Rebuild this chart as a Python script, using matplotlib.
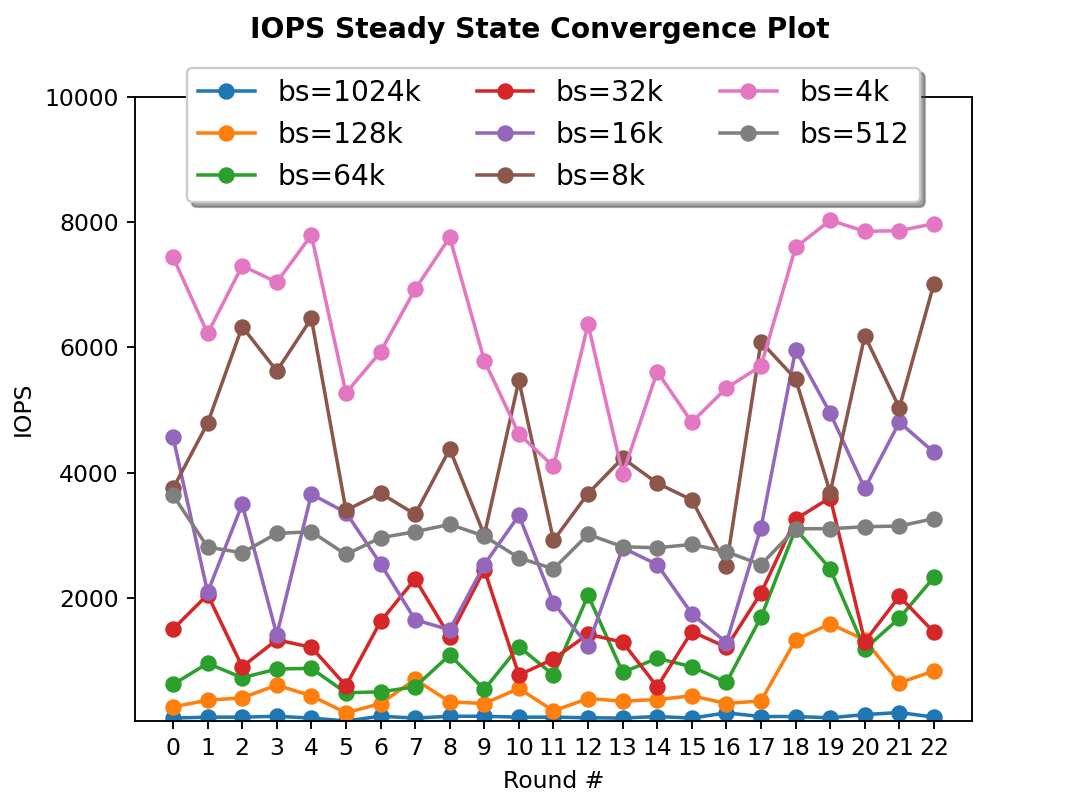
import matplotlib
matplotlib.use("Agg")
import matplotlib.pyplot as plt

# Data
rounds = list(range(23))

bs_1024k = [75, 90, 90, 104, 75, 30, 104, 75, 104, 104, 90, 90, 80, 75, 100, 75, 158, 100, 100, 80, 131, 164, 90]
bs_128k = [254, 361, 399, 602, 431, 158, 308, 693, 335, 308, 549, 190, 388, 345, 372, 431, 308, 350, 1325, 1582, 1325, 640, 827]
bs_64k = [613, 950, 720, 859, 870, 479, 495, 575, 1084, 533, 1218, 763, 2037, 806, 1031, 896, 645, 1689, 3100, 2460, 1180, 1673, 2325]
bs_32k = [1497, 2048, 896, 1325, 1207, 592, 1619, 2300, 1378, 2449, 763, 1020, 1416, 1288, 575, 1459, 1207, 2075, 3252, 3600, 1298, 2020, 1448]
bs_16k = [4564, 2085, 3493, 1405, 3654, 3360, 2541, 1646, 1486, 2529, 3316, 1914, 1233, 2798, 2529, 1742, 1282, 3119, 5966, 4949, 3745, 4805, 4323]
bs_8k = [3745, 4789, 6331, 5624, 6464, 3397, 3670, 3332, 4376, 3000, 5473, 2915, 3665, 4232, 3830, 3562, 2513, 6090, 5496, 3681, 6186, 5035, 7021]
bs_4k = [7444, 6223, 7305, 7042, 7797, 5271, 5929, 6930, 7760, 5790, 4617, 4098, 6368, 3975, 5613, 4805, 5351, 5704, 7599, 8033, 7856, 7866, 7979]
bs_512 = [3638, 2808, 2717, 3027, 3054, 2690, 2958, 3054, 3172, 2984, 2637, 2460, 3011, 2814, 2798, 2851, 2733, 2529, 3102, 3102, 3134, 3145, 3263]

series = [
    ("bs=1024k", bs_1024k),
    ("bs=128k", bs_128k),
    ("bs=64k", bs_64k),
    ("bs=32k", bs_32k),
    ("bs=16k", bs_16k),
    ("bs=8k", bs_8k),
    ("bs=4k", bs_4k),
    ("bs=512", bs_512),
]


def main():
    fig, ax = plt.subplots(figsize=(6.4, 4.8), dpi=168.75)

    for label, values in series:
        ax.plot(rounds, values, marker="o", label=label)

    ax.set_ylim(30, 10000)
    ax.set_xticks(rounds)
    ax.set_xlabel("Round #")
    ax.set_ylabel("IOPS")
    fig.suptitle("IOPS Steady State Convergence Plot", fontweight="bold")

    # legend sits above the plot area, partly over the top spine
    ax.legend(loc="upper center", bbox_to_anchor=(0.5, 1.07), ncol=3,
              shadow=True, fontsize="large")

    fig.savefig("out.png")


if __name__ == "__main__":
    main()
